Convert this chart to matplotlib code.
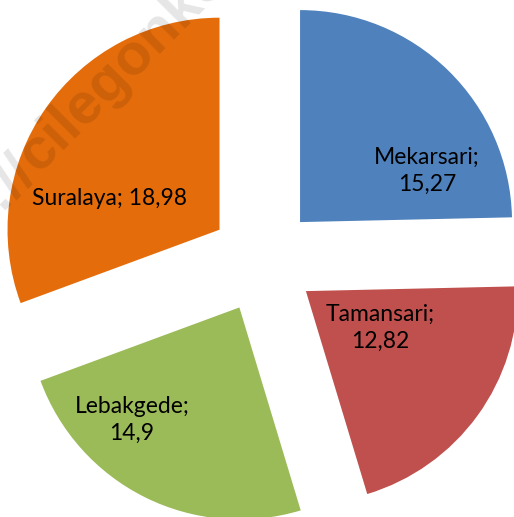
import matplotlib
matplotlib.use("Agg")
import matplotlib.pyplot as plt

# data
kelurahan = ["Mekarsari", "Tamansari", "Lebakgede", "Suralaya"]
nilai = [15.27, 12.82, 14.9, 18.98]
warna = ["#4F81BD", "#C0504D", "#9BBB59", "#E46C0A"]
label_txt = ["Mekarsari;\n15,27", "Tamansari;\n12,82", "Lebakgede;\n14,9", "Suralaya; 18,98"]
label_pos = [(0.774, 0.420), (0.552, -0.321), (-0.618, -0.755), (-0.722, 0.292)]

plt.rcParams['font.family'] = ['Lato', 'DejaVu Sans']

fig = plt.figure(figsize=(5.14, 5.17), dpi=100)
ax = fig.add_axes([0, 0, 1, 1])
ax.pie(nilai, colors=warna, startangle=90, counterclock=False,
       explode=[0.25] * len(nilai), radius=1,
       wedgeprops=dict(linewidth=0))
for t, (x, y) in zip(label_txt, label_pos):
    ax.text(x, y, t, ha='center', va='center', fontsize=16.5,
            color='black', linespacing=1.35)
ax.set_xlim(-1.2406, 1.184)
ax.set_ylim(-1.2123, 1.2264)
ax.set_aspect('auto')
ax.axis('off')

# watermark
kw = dict(fontsize=42, fontweight='bold', family='Liberation Sans',
          color='black', alpha=0.1, rotation=45, rotation_mode='anchor',
          va='baseline', transform=fig.transFigure, zorder=10)
fig.text(0.074, 0.664, "http://", ha='right', **kw)
fig.text(0.074, 0.664, "cilegonkota.bps.go.id", ha='left', **kw)

fig.savefig("out.png", dpi=100)
